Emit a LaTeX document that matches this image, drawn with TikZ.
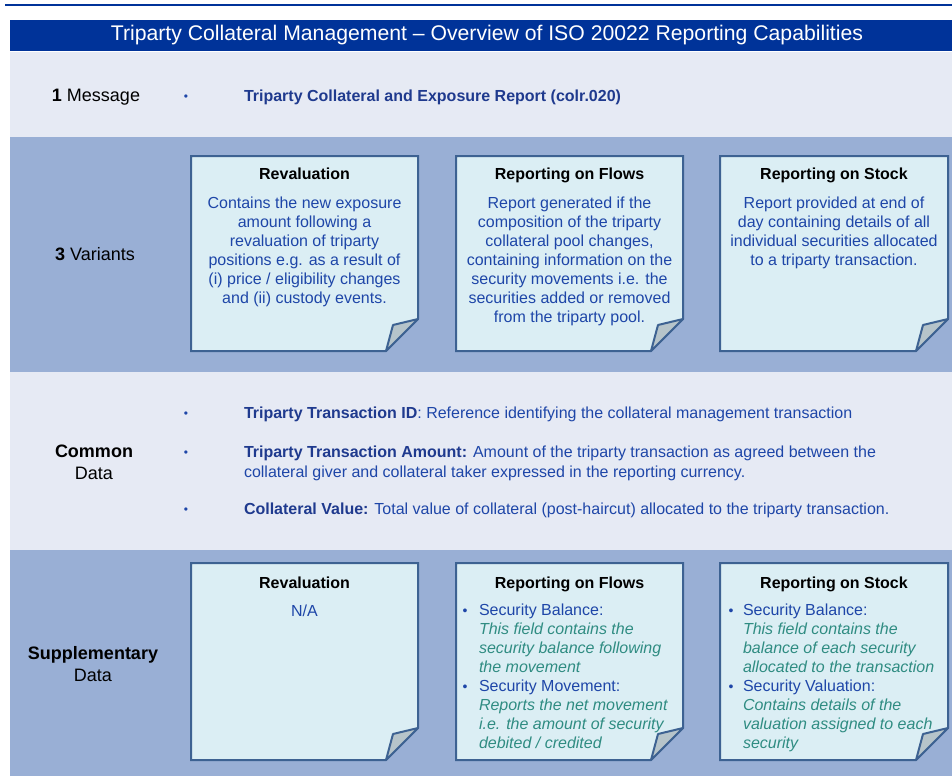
\documentclass[tikz,border=0pt]{standalone}
\usepackage{fontspec}
\setmainfont{Liberation Sans}
\definecolor{hdr}{HTML}{003399}
\definecolor{lightbg}{HTML}{E6EAF4}
\definecolor{bluebg}{HTML}{99AFD5}
\definecolor{notefill}{HTML}{DBEEF4}
\definecolor{noteborder}{HTML}{3D6292}
\definecolor{foldfill}{HTML}{B6C4CA}
\definecolor{bodyblue}{HTML}{1E46A8}
\definecolor{lblblue}{HTML}{1F3A8E}
\definecolor{tealit}{HTML}{2F8C82}
\newcommand\snote[5]{%
  \draw[noteline] (#2,#3) -- (#4,#3) -- (#4,#5-32) -- (#4-32,#5) -- (#2,#5) -- cycle;
  \draw[foldline] (#4,#5-32) -- (#4-25,#5-26) -- (#4-32,#5) -- cycle;
  \coordinate (#1) at ({(#2+#4)/2},#3);
}
\tikzset{
  noteline/.style={draw=noteborder, fill=notefill, line width=2pt, line join=miter},
  foldline/.style={draw=noteborder, fill=foldfill, line width=2pt, line join=round},
  base/.style={inner sep=0pt, outer sep=0pt},
  titletext/.style={base, text=white, font=\fontsize{21.2}{24}\selectfont},
  rowlbl/.style={base, anchor=base, text=black, align=center, font=\fontsize{18}{22}\selectfont},
  ntitle/.style={base, anchor=base, text=black, font=\fontsize{16}{19}\selectfont\bfseries},
  nbody/.style={base, anchor=base, text=bodyblue, align=center, font=\fontsize{16}{19}\selectfont},
  nlist/.style={base, anchor=base west, text=bodyblue, align=left, font=\fontsize{16}{19}\selectfont},
  bul/.style={base, anchor=base, text=bodyblue, font=\fontsize{12}{14}\selectfont},
  ibul/.style={base, anchor=base, text=bodyblue, font=\fontsize{14}{19}\selectfont},
  cdata/.style={base, anchor=base west, text=bodyblue, align=left, font=\fontsize{16}{20}\selectfont},
}
\newcommand\lb[1]{\textcolor{lblblue}{\textbf{#1}}}
\newcommand\tl[1]{\textcolor{tealit}{\itshape #1}}
\begin{document}
\begin{tikzpicture}[x=1pt,y=-1pt]
\useasboundingbox (0,0) rectangle (952,781);
% top rule
\draw[hdr, line width=2pt] (5,5.5) -- (952,5.5);
% bands
\fill[hdr] (10,20) rectangle (952,51);
\fill[lightbg] (10,52) rectangle (952,137);
\fill[bluebg] (10,137) rectangle (952,372);
\fill[lightbg] (10,372) rectangle (952,550);
\fill[bluebg] (10,550) rectangle (952,776);
\node[titletext] (title) at (487,35.5) {Triparty Collateral Management – Overview of ISO 20022 Reporting Capabilities};
% row 1
\node[rowlbl] (msg) at (96,102) {\textbf{1} Message};
\node[bul] (b0) at (186,101) {\textbullet};
\node[cdata, anchor=base west] (msgtxt) at (244,102) {\lb{Triparty Collateral and Exposure Report (colr.020)}};
% row 2
\node[rowlbl] (var) at (95,260) {\textbf{3} Variants};
\snote{n1}{191}{156}{418}{351}
\snote{n2}{456}{156}{683}{351}
\snote{n3}{720}{156}{948}{351}
\node[ntitle] (n1t) at (304.5,179) {Revaluation};
\node[ntitle] (n2t) at (569.5,179) {Reporting on Flows};
\node[ntitle] (n3t) at (834,179) {Reporting on Stock};
% multi-line nodes: base anchor = baseline of last line
\node[nbody] (n1b) at (304.5,303) {Contains the new exposure\\amount following a\\revaluation of triparty\\positions e.g. as a result of\\(i) price / eligibility changes\\and (ii) custody events.};
\node[nbody] (n2b) at (569.5,322) {Report generated if the\\composition of the triparty\\collateral pool changes,\\containing information on the\\security movements i.e. the\\securities added or removed\\from the triparty pool.};
\node[nbody] (n3b) at (834,265) {Report provided at end of\\day containing details of all\\individual securities allocated\\to a triparty transaction.};
% row 3
\node[rowlbl] (com) at (94,479) {\textbf{Common}\\Data};
\node[bul] (b1) at (186,417) {\textbullet};
\node[bul] (b2) at (186,456) {\textbullet};
\node[bul] (b3) at (186,513) {\textbullet};
\node[cdata] (c1) at (244,418) {\lb{Triparty Transaction ID}: Reference identifying the collateral management transaction};
\node[cdata] (c2) at (244,477) {\lb{Triparty Transaction Amount:} Amount of the triparty transaction as agreed between the\\collateral giver and collateral taker expressed in the reporting currency.};
\node[cdata] (c3) at (244,514) {\lb{Collateral Value:} Total value of collateral (post-haircut) allocated to the triparty transaction.};
% row 4
\node[rowlbl] (sup) at (93,681) {\textbf{Supplementary}\\Data};
\snote{s1}{191}{563}{418}{760}
\snote{s2}{456}{563}{683}{760}
\snote{s3}{720}{563}{948}{760}
\node[ntitle] (s1t) at (304.5,588) {Revaluation};
\node[ntitle] (s2t) at (569.5,588) {Reporting on Flows};
\node[ntitle] (s3t) at (834,588) {Reporting on Stock};
\node[nbody] (s1b) at (304.5,616) {N/A};
\node[ibul] (s2b1) at (465,615) {\textbullet};
\node[ibul] (s2b2) at (465,691) {\textbullet};
\node[nlist] (s2l) at (479,748) {Security Balance:\\\tl{This field contains the}\\\tl{security balance following}\\\tl{the movement}\\Security Movement:\\\tl{Reports the net movement}\\\tl{i.e. the amount of security}\\\tl{debited / credited}};
\node[ibul] (s3b1) at (731,615) {\textbullet};
\node[ibul] (s3b2) at (731,691) {\textbullet};
\node[nlist] (s3l) at (743,748) {Security Balance:\\\tl{This field contains the}\\\tl{balance of each security}\\\tl{allocated to the transaction}\\Security Valuation:\\\tl{Contains details of the}\\\tl{valuation assigned to each}\\\tl{security}};
\end{tikzpicture}
\end{document}
